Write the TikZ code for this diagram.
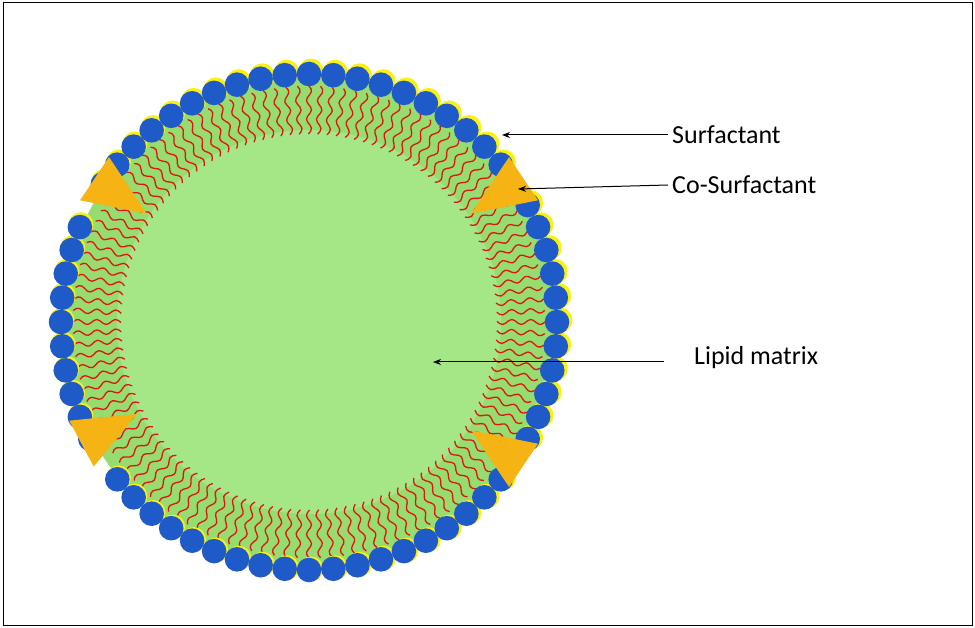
\documentclass[tikz,border=0pt]{standalone}
\usepackage{fontspec}
\setmainfont{Carlito}
\usetikzlibrary{arrows.meta}
\definecolor{ball}{RGB}{30,90,200}
\definecolor{shell}{RGB}{250,240,20}
\definecolor{gout}{RGB}{150,220,110}
\definecolor{gin}{RGB}{165,230,135}
\definecolor{tail}{RGB}{225,20,20}
\definecolor{cone}{RGB}{245,180,20}
\tikzset{lbl/.style={font=\fontsize{26}{30}\selectfont,anchor=west,inner sep=0pt},
  ptr/.style={-{Stealth[length=8pt,width=6pt]},line width=1pt}}
\begin{document}
\begin{tikzpicture}[x=1pt,y=-1pt]
\useasboundingbox (0,0) rectangle (975,628);
\draw[line width=1pt] (3,3) rectangle (972,625);
\coordinate (c) at (309,322);
\fill[gout] (c) circle (246);
\fill[gin] (c) circle (192);
% tails
\foreach \i in {0,...,127}{
  \pgfmathsetmacro{\a}{\i*2.8125}
  \begin{scope}[shift={(309,322)},rotate=-\a]
    \draw[tail,line width=1.3pt,line join=round] (236,0)
      \foreach \t in {3,6,...,48}{ -- ({236-\t},{2.5*sin(\t*19)}) };
  \end{scope}
}
% balls
\foreach \i in {0,...,63}{
  \pgfmathsetmacro{\a}{\i*5.625}
  \pgfmathtruncatemacro{\skip}{(abs(\a-33.75)<3 || abs(\a-151.875)<3 || abs(\a-213.75)<3 || abs(\a-326.25)<3) ? 1 : 0}
  \ifnum\skip=0
    \fill[shell] (c) ++({-\a}:249) ++(2,-2) circle (12.5);
  \fi
}
\foreach \i in {0,...,63}{
  \pgfmathsetmacro{\a}{\i*5.625}
  \pgfmathtruncatemacro{\skip}{(abs(\a-33.75)<3 || abs(\a-151.875)<3 || abs(\a-213.75)<3 || abs(\a-326.25)<3) ? 1 : 0}
  \ifnum\skip=0
    \fill[ball] (c) ++({-\a}:248) circle (12.3);
  \fi
}
% cones
\foreach \a in {33.75,151.875,213.75,326.25}{
  \begin{scope}[shift={(309,322)},rotate=-\a]
    \fill[cone] (195,0) -- (258,-26) -- (258,26) -- cycle;
  \end{scope}
}
\node[lbl] (s) at (672,135) {Surfactant};
\node[lbl] (cs) at (672,185) {Co-Surfactant};
\node[lbl] (lm) at (694,358) {Lipid matrix};
\coordinate (sa) at (502,135);
\coordinate (csa) at (518,189);
\coordinate (lma) at (433,362);
\draw[ptr] ([xshift=-4pt]s.west) -- (sa);
\draw[ptr] ([xshift=-4pt]cs.west) -- (csa);
\draw[ptr] ([xshift=-30pt,yshift=-4pt]lm.west) -- (lma);
\end{tikzpicture}
\end{document}
